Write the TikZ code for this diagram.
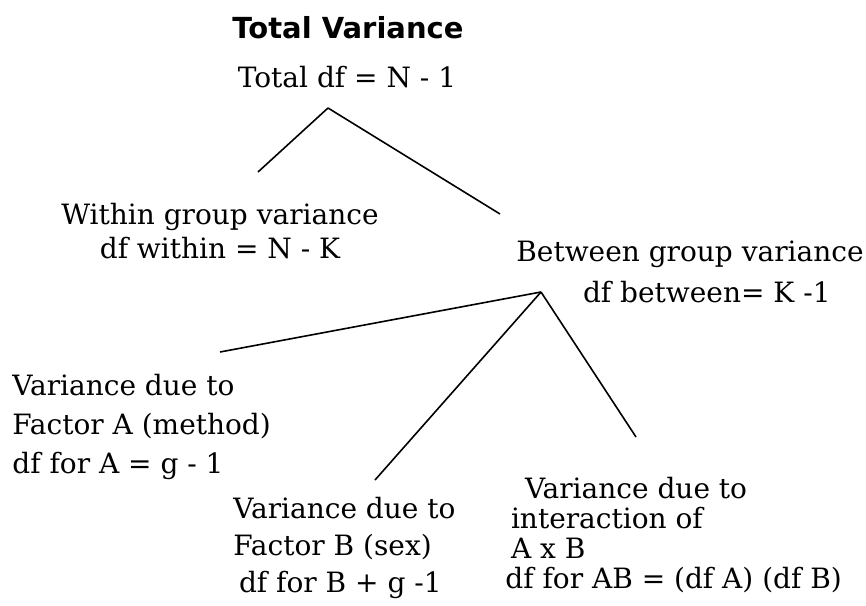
\documentclass[tikz,border=0pt]{standalone}
\usepackage{fontspec}
\setmainfont{DejaVu Serif}
\newfontfamily\headfont{DejaVu Sans}
\usetikzlibrary{positioning}

\begin{document}
\begin{tikzpicture}[x=0.5pt,y=-0.5pt,
  txt/.style={inner sep=0pt,font=\fontsize{14}{17}\selectfont},
  br/.style={line width=0.8pt,black}]
\useasboundingbox (0,0) rectangle (866,605);
% top of the tree
\node[inner sep=0pt,font=\headfont\fontsize{14.5}{17}\selectfont\bfseries] (title) at (348,28) {Total Variance};
\node[txt] (total) at (347,77) {Total df = N - 1};
\coordinate (top) at (328,108);
\coordinate (wend) at (258,172);
\coordinate (bend) at (500,214);
\draw[br] (top)--(wend); \draw[br] (top)--(bend);
\node[txt,align=center,font=\fontsize{14}{17}\selectfont] (within) at (220,231) {Within group variance\\df within = N - K};
\node[txt,align=center,font=\fontsize{14}{20.5}\selectfont] (between) at (690,272) {Between group variance\\\hspace*{1.2em}df between= K -1};
% second level
\coordinate (mid) at (541,292);
\coordinate (aend) at (220,352);
\coordinate (bbend) at (375,480);
\coordinate (iend) at (636,437);
\draw[br] (mid)--(aend); \draw[br] (mid)--(bbend); \draw[br] (mid)--(iend);
\node[txt,align=left,anchor=west,font=\fontsize{14}{19.7}\selectfont] (facA) at (12,427) {Variance due to\\Factor A (method)\\df for A = g - 1};
\node[txt,align=left,anchor=west,font=\fontsize{14}{18.7}\selectfont] (facB) at (233,548) {Variance due to\\Factor B (sex)\\\hspace*{0.2em}df for B + g -1};
\node[txt,align=left,anchor=west,font=\fontsize{14}{15}\selectfont] (inter) at (505,535) {\hspace*{0.7em}Variance due to\\\hspace*{0.2em}interaction of\\\hspace*{0.2em}A x B\\df for AB = (df A) (df B)};
\end{tikzpicture}
\end{document}
